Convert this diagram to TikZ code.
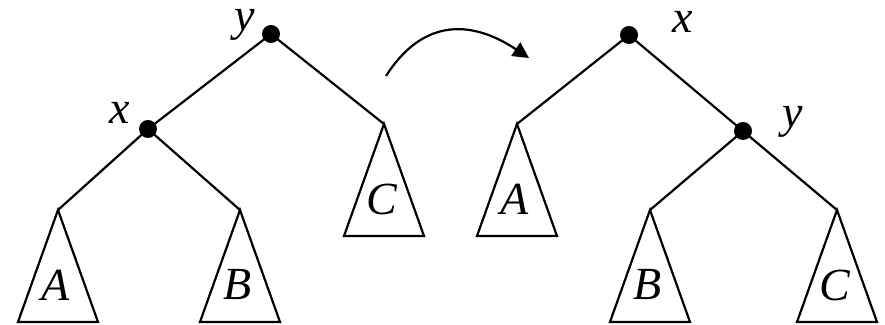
\documentclass[tikz,border=0pt]{standalone}
\usepackage{fontspec}
\setmainfont{Liberation Serif}
\usepackage{tikz}
\usetikzlibrary{positioning,arrows.meta,calc}
\tikzset{
  % --- tree parts ------------------------------------------------------------
  vert/.style={circle,fill=black,inner sep=0pt,minimum size=9pt},
  vlab/.style={font=\fontsize{23}{26}\selectfont\itshape,inner sep=0pt},
  sublab/.style={font=\fontsize{23}{26}\selectfont\itshape,inner sep=0pt},
  edge/.style={line width=1.1pt},
  subtri/.style={line width=1.1pt,line join=miter},
  rot/.style={line width=1.1pt,-{Triangle[length=8pt,width=8pt]}},
}

\begin{document}
\begin{tikzpicture}[x=0.5pt, y=-0.5pt]
  \useasboundingbox (0,0) rectangle (885,325);

  % left tree
  \node[vert] (yL) at (271,34)  {};
  \node[vert] (xL) at (148,129) {};
  \node[vlab] at (245,25)  {y};
  \node[vlab] at (120,113) {x};
  \coordinate (aL) at (58,210);
  \coordinate (bL) at (240,210);
  \coordinate (cL) at (384,124);
  \draw[edge] (yL.center) -- (xL.center) -- (aL);
  \draw[edge] (xL.center) -- (bL);
  \draw[edge] (yL.center) -- (cL);

  % right tree
  \node[vert] (xR) at (629,35)  {};
  \node[vert] (yR) at (743,131) {};
  \node[vlab] at (683,22)  {x};
  \node[vlab] at (793,122) {y};
  \coordinate (aR) at (517,124);
  \coordinate (bR) at (650,210);
  \coordinate (cR) at (837,210);
  \draw[edge] (xR.center) -- (yR.center) -- (cR);
  \draw[edge] (yR.center) -- (bR);
  \draw[edge] (xR.center) -- (aR);

  % subtrees
  \foreach \p/\t in {aL/A, bL/B, cL/C, aR/A, bR/B, cR/C} {
    \draw[subtri] (\p) -- ++(-40,112) -- ++(80,0) -- cycle;
    \node[sublab] at ($(\p)+(-2,75)$) {\t};
  }

  % rotation arrow
  \coordinate (r0) at (386,76);
  \coordinate (r1) at (529,58);
  \draw[rot] (r0) .. controls (425,15) and (475,22) .. (r1);
\end{tikzpicture}
\end{document}
